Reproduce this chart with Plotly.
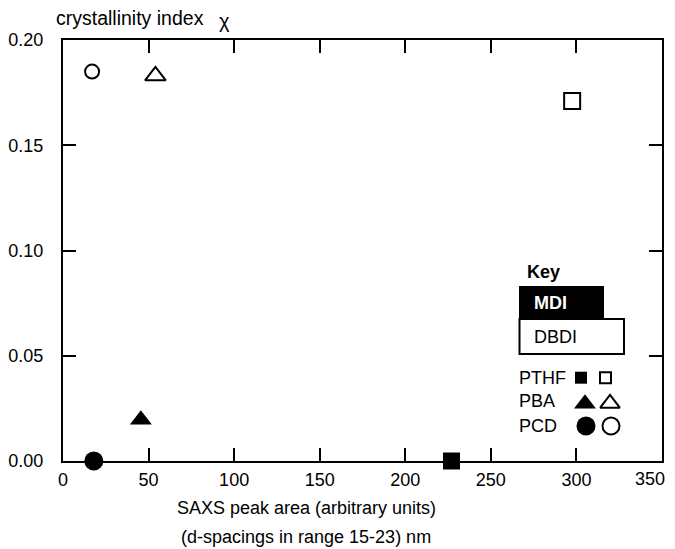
import plotly.graph_objects as go

# ---- data ----
polyols = ["PTHF", "PBA", "PCD"]
mdi_x = [227, 45.5, 18]
mdi_y = [0.0, 0.0196, 0.0]
dbdi_x = [297.5, 54, 17]
dbdi_y = [0.171, 0.183, 0.185]
x_ticks = [0, 50, 100, 150, 200, 250, 300, 350]
x_tick_labels = ["0", "50", "100", "150", "200", "250", "300", "350"]
y_ticks = [0.00, 0.05, 0.10, 0.15, 0.20]
x_title_lines = ["SAXS peak area (arbitrary units)", "(d-spacings in range 15-23) nm"]
y_title = "crystallinity index"
y_symbol = "\u03c7"

# page offset of the figure (default body margin of the html page)
OFF = 8
# plot area in page pixels
PX0, PX1, PY0, PY1 = 63, 662, 40, 461
W, H = 675 - OFF, 549 - OFF
ML, MR, MT, MB = PX0 - OFF, W + OFF - PX1, PY0 - OFF, H + OFF - PY1
FONT = "Arial, 'Liberation Sans', sans-serif"
FS = 18

filled_sym = {"PTHF": "square", "PBA": "triangle-up", "PCD": "circle"}
open_sym = {"PTHF": "square-open", "PBA": "triangle-up-open", "PCD": "circle-open"}
filled_size = {"PTHF": 17, "PBA": 19, "PCD": 19}
open_size = {"PTHF": 16, "PBA": 18, "PCD": 14}

fig = go.Figure()

for i, p in enumerate(polyols):
    fig.add_trace(go.Scatter(
        x=[mdi_x[i]], y=[mdi_y[i]], mode="markers", cliponaxis=False,
        marker=dict(symbol=filled_sym[p], size=filled_size[p], color="black"),
        showlegend=False, name=p + " MDI"))
    fig.add_trace(go.Scatter(
        x=[dbdi_x[i]], y=[dbdi_y[i]], mode="markers", cliponaxis=False,
        marker=dict(symbol=open_sym[p], size=open_size[p], color="black",
                    line=dict(width=2, color="black")),
        showlegend=False, name=p + " DBDI"))

# ---- key (drawn on a page-pixel overlay axis) ----
key_rows_y = {"PTHF": 377.7, "PBA": 401.3, "PCD": 426}
key_fx = {"PTHF": 581, "PBA": 585, "PCD": 586}
key_ox = {"PTHF": 605.5, "PBA": 610, "PCD": 611}
key_fsize = {"PTHF": 12, "PBA": 19, "PCD": 19}
key_osize = {"PTHF": 11, "PBA": 17, "PCD": 17}
for p in polyols:
    yc = key_rows_y[p]
    adj_f = key_fsize[p] / 8 if p == "PBA" else 0
    adj_o = key_osize[p] / 8 if p == "PBA" else 0
    fig.add_trace(go.Scatter(
        x=[key_fx[p]], y=[yc + adj_f], xaxis="x2", yaxis="y2", mode="markers",
        marker=dict(symbol=filled_sym[p], size=key_fsize[p], color="black"),
        showlegend=False, hoverinfo="skip", cliponaxis=False))
    fig.add_trace(go.Scatter(
        x=[key_ox[p]], y=[yc + adj_o], xaxis="x2", yaxis="y2", mode="markers",
        marker=dict(symbol=open_sym[p], size=key_osize[p], color="black",
                    line=dict(width=2, color="black")),
        showlegend=False, hoverinfo="skip", cliponaxis=False))


def px_x(px):
    return (px - PX0) / (PX1 - PX0)


def px_y(py):
    return (PY1 - py) / (PY1 - PY0)


def txt(x, y, text, anchor="left", size=FS, color="black"):
    return dict(x=px_x(x), y=px_y(y), xref="paper", yref="paper", text=text,
                showarrow=False, xanchor=anchor, yanchor="middle",
                font=dict(family=FONT, size=size, color=color))


annotations = []
for p in polyols:
    annotations.append(txt(517, key_rows_y[p], p))
annotations.append(txt(543, 272, "<b>Key</b>", anchor="center"))
annotations.append(txt(532, 303, "<b>MDI</b>", color="white"))
annotations.append(txt(532, 337, "DBDI"))

# last x tick label: kept inside the visible window
annotations.append(txt(667, 479, x_tick_labels[-1], anchor="right"))
shown_labels = x_tick_labels[:-1] + [""]

# axis titles (page pixel positions)
annotations.append(txt(54, 18, y_title, size=19.5))
annotations.append(txt(224, 21, y_symbol, anchor="center", size=20))
for k, line in enumerate(x_title_lines):
    annotations.append(txt(306, 508 + 29 * k, line, anchor="center"))

shapes = [
    dict(type="rect", xref="x2", yref="y2", x0=519, x1=604, y0=286, y1=320,
         fillcolor="black", line=dict(width=0), layer="above"),
    dict(type="rect", xref="x2", yref="y2", x0=519.5, x1=624, y0=319, y1=354,
         fillcolor="white", line=dict(width=2, color="black"), layer="above"),
]

fig.update_layout(
    width=W, height=H,
    margin=dict(l=ML, r=MR, t=MT, b=MB, autoexpand=False),
    paper_bgcolor="white", plot_bgcolor="white",
    font=dict(family=FONT, size=FS, color="black"),
    xaxis=dict(range=[0, 350], tickvals=x_ticks, ticktext=shown_labels,
               ticks="inside", ticklen=13, tickwidth=2,
               tickcolor="black", showline=True, linewidth=2, linecolor="black",
               mirror="ticks", showgrid=False, zeroline=False, ticklabelstandoff=1,
               ticklabeloverflow="allow",
               tickfont=dict(family=FONT, size=FS, color="black")),
    yaxis=dict(range=[0, 0.20], tickvals=y_ticks, tickformat=".2f", ticks="inside",
               ticklen=13, tickwidth=2, tickcolor="black", showline=True, linewidth=2,
               linecolor="black", mirror="ticks", showgrid=False, zeroline=False,
               ticklabelstandoff=14, ticklabeloverflow="allow",
               tickfont=dict(family=FONT, size=FS, color="black")),
    xaxis2=dict(overlaying="x", range=[PX0, PX1], visible=False, fixedrange=True),
    yaxis2=dict(overlaying="y", range=[PY1, PY0], visible=False, fixedrange=True),
    annotations=annotations,
    shapes=shapes,
)

fig.write_html("out.html")
